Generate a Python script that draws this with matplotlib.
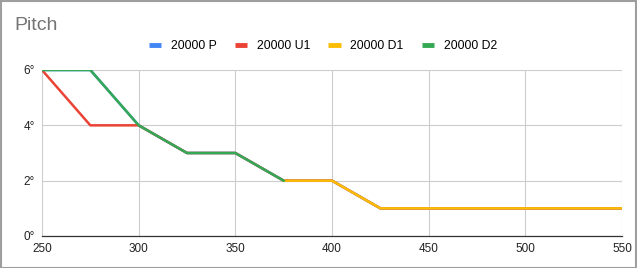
import numpy as np
import matplotlib.pyplot as plt
from matplotlib.patches import Rectangle

nan = np.nan
x = [250, 275, 300, 325, 350, 375, 400, 425, 450, 475, 500, 525, 550]
p_vals = [6, 6, 4, 3, 3, 2, 2, 1, 1, 1, 1, 1, 1]
u1_vals = [6, 4, 4, 3, 3, 2, 2, 1, 1, 1, 1, 1, 1]
d1_vals = [nan, nan, nan, nan, nan, 2, 2, 1, 1, 1, 1, 1, 1]
d2_vals = [6, 6, 4, 3, 3, 2, nan, nan, nan, nan, nan, nan, nan]

series = [("20000 P", p_vals, "#4285f4"),
          ("20000 U1", u1_vals, "#ea4335"),
          ("20000 D1", d1_vals, "#fbbc04"),
          ("20000 D2", d2_vals, "#34a853")]

plt.rcParams['font.family'] = ['Arial', 'Liberation Sans', 'DejaVu Sans']

fig = plt.figure(figsize=(6.37, 2.68), dpi=100)
ax = fig.add_axes([42 / 637, 1 - 236 / 268, 580 / 637, 166 / 268])

for name, vals, col in series:
    ax.plot(x, vals, color=col, lw=1.8, label=name, solid_joinstyle='round')

ax.set_xlim(250, 550)
ax.set_ylim(0, 6)
ax.set_xticks(range(250, 551, 50))
ax.set_yticks([0, 2, 4, 6])
ax.set_yticklabels([f"{v}°" for v in [0, 2, 4, 6]])
ax.grid(True, color="#cccccc", lw=0.8)
ax.set_axisbelow(True)
for s in ["top", "right", "left"]:
    ax.spines[s].set_visible(False)
ax.spines["bottom"].set_color("#333333")
ax.spines["bottom"].set_linewidth(0.9)
ax.tick_params(length=0, labelsize=8.5, colors="#222222", pad=5)

fig.text(14 / 637, 1 - 26 / 268, "Pitch", fontsize=14, color="#757575", va="center")

handles, labels = ax.get_legend_handles_labels()
leg = fig.legend(handles, labels, loc="center", bbox_to_anchor=(0.507, 1 - 46 / 268), ncol=4,
                 frameon=False, fontsize=8.8, handlelength=1.0, handletextpad=0.8,
                 columnspacing=1.5)
for h in leg.legend_handles:
    h.set_linewidth(3.5)
    h.set_solid_capstyle('butt')

fig.patches.append(Rectangle((0.5 / 637, 0.5 / 268), 1 - 1.5 / 637, 1 - 1.5 / 268,
                             transform=fig.transFigure, fill=False, edgecolor="#9e9e9e", lw=1.5))

fig.savefig("out.png", dpi=100)
